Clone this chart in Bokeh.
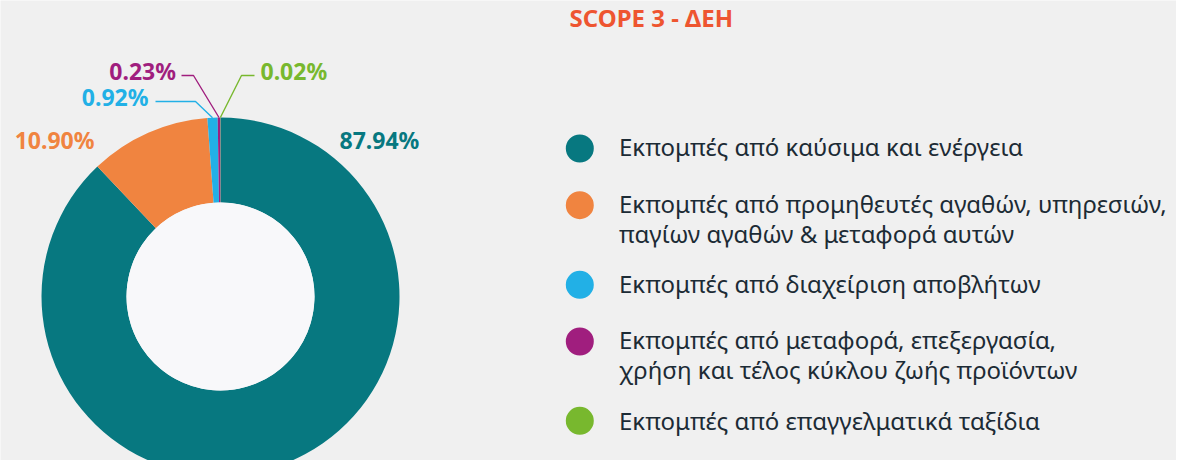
import math
from bokeh.plotting import figure
from bokeh.models import Range1d, ColumnDataSource
from bokeh.core.properties import value
from bokeh.embed import file_html
from bokeh.resources import INLINE

# ---- data ----
categories = [
    "Εκπομπές από καύσιμα και ενέργεια",
    "Εκπομπές από προμηθευτές αγαθών, υπηρεσιών,\nπαγίων αγαθών & μεταφορά αυτών",
    "Εκπομπές από διαχείριση αποβλήτων",
    "Εκπομπές από μεταφορά, επεξεργασία,\nχρήση και τέλος κύκλου ζωής προϊόντων",
    "Εκπομπές από επαγγελματικά ταξίδια",
]
shares = [87.94, 10.90, 0.92, 0.23, 0.02]
colors = ["#077880", "#F08440", "#22B0E6", "#A01E7E", "#78B82E"]
title_text = "SCOPE 3 - ΔΕΗ"

W, H = 1176, 460
BG = "#F0F0F0"
FONT = "Noto Sans"

p = figure(width=W, height=H, x_range=Range1d(0, W), y_range=Range1d(0, H),
           output_backend="svg", toolbar_location=None, min_border=0,
           x_axis_type=None, y_axis_type=None,
           background_fill_color=BG, border_fill_color=BG)
p.grid.visible = False
p.outline_line_color = None

# donut geometry (px)
cx, cy = 220, 164
r_out, r_in = 179, 94

total = sum(shares)
starts, ends, mids = [], [], []
cum = 0.0
for v in shares:
    a0 = math.pi / 2 - 2 * math.pi * cum / total
    cum += v
    a1 = math.pi / 2 - 2 * math.pi * cum / total
    starts.append(a0)
    ends.append(a1)
    mids.append((a0 + a1) / 2)

src = ColumnDataSource(dict(start=starts, end=ends, color=colors))
p.annular_wedge(x=cx, y=cy, inner_radius=r_in, outer_radius=r_out,
                start_angle="start", end_angle="end", direction="clock",
                fill_color="color", line_color=None, source=src)
p.circle(x=cx, y=cy, radius=r_in, fill_color="#F8F8FA", line_color=None)

# value labels
labels = [f"{v:.2f}%" for v in shares]
lab_pos = [(339, 320.8, "left"), (94, 320.8, "right"), (148, 363.3, "right"),
           (175.5, 390, "right"), (260, 390, "left")]
for txt, (lx, ly, al), c in zip(labels, lab_pos, colors):
    p.text(x=[lx], y=[ly], text=[txt], text_color=c, text_font=value(FONT),
           text_font_style="bold", text_font_size="23px",
           text_align=al, text_baseline="middle")

# leader lines for small slices
leaders = [(2, 155, 195, 359), (3, 181, 193, 385), (4, 254, 241, 385)]
for idx, x_end, x_knee, y_lvl in leaders:
    ex = cx + r_out * math.cos(mids[idx])
    ey = cy + r_out * math.sin(mids[idx])
    p.line(x=[x_end, x_knee, ex], y=[y_lvl, y_lvl, ey],
           line_color=colors[idx], line_width=1.4)

# title
p.text(x=[569], y=[443], text=[title_text], text_color="#EE5530",
       text_font=value(FONT), text_font_style="bold", text_font_size="24px",
       text_align="left", text_baseline="middle")

# legend
leg_y = [312, 255.3, 175.7, 119, 39.7]
txt_y = [313.7, 256.8, 177.3, 120.6, 40.5]
line_gap = 29.4
p.circle(x=[579.3] * len(leg_y), y=leg_y, radius=14, fill_color=colors,
         line_color=None)
for cat, ty in zip(categories, txt_y):
    for k, part in enumerate(cat.split("\n")):
        p.text(x=[618.5], y=[ty - k * line_gap], text=[part], text_color="#1C2B35",
               text_font=value(FONT), text_font_size="24px",
               text_align="left", text_baseline="middle")

open("out.html", "w").write(file_html(p, INLINE))
